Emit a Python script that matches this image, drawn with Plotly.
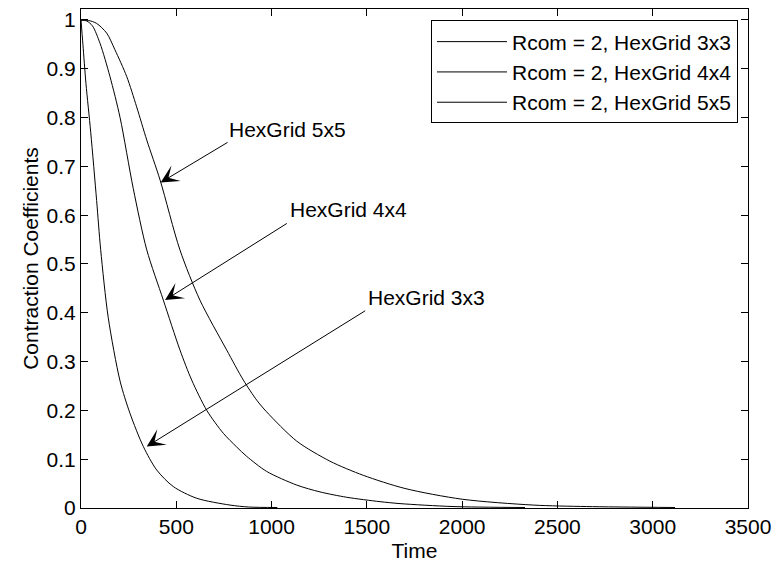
import plotly.graph_objects as go

# Contraction coefficient decay over time for three hexagonal grid sizes (Rcom = 2)
time_3x3 = [0, 10, 26, 51, 82, 103, 143, 205, 257, 327, 397, 484, 607, 782, 880, 1030]
coef_3x3 = [1.0, 0.95, 0.87, 0.77, 0.63, 0.53, 0.39, 0.26, 0.194, 0.126, 0.078, 0.044,
            0.020, 0.006, 0.002, 0.001]

time_4x4 = [0, 30, 60, 100, 152, 205, 274, 345, 432, 519, 581, 660, 747, 817, 869, 974,
            1132, 1254, 1394, 1569, 1674, 1952, 2330]
coef_4x4 = [1.0, 0.998, 0.988, 0.952, 0.884, 0.80, 0.655, 0.529, 0.426, 0.324, 0.262,
            0.20, 0.153, 0.125, 0.106, 0.075, 0.047, 0.033, 0.022, 0.013, 0.009, 0.003,
            0.001]

time_5x5 = [0, 40, 82, 135, 178, 240, 292, 345, 415, 519, 624, 764, 852, 922, 974, 1132,
            1306, 1481, 1700, 2000, 2373, 2653, 3117]
coef_5x5 = [1.0, 0.999, 0.993, 0.973, 0.939, 0.884, 0.822, 0.754, 0.672, 0.529, 0.426,
            0.324, 0.262, 0.221, 0.197, 0.137, 0.096, 0.067, 0.040, 0.018, 0.006, 0.003,
            0.001]

series_names = ["Rcom = 2, HexGrid 3x3", "Rcom = 2, HexGrid 4x4", "Rcom = 2, HexGrid 5x5"]

x_ticks = [0, 500, 1000, 1500, 2000, 2500, 3000, 3500]
y_ticks = [0, 0.1, 0.2, 0.3, 0.4, 0.5, 0.6, 0.7, 0.8, 0.9, 1]
y_tick_text = ["0", "0.1", "0.2", "0.3", "0.4", "0.5", "0.6", "0.7", "0.8", "0.9", "1"]

# Callouts: label, label position, arrow tail, arrow tip (data units)
callout_labels = ["HexGrid 5x5", "HexGrid 4x4", "HexGrid 3x3"]
callout_text_pos = [(1083, 0.775), (1404, 0.612), (1814, 0.431)]
callout_tail = [(777, 0.751), (1088, 0.585), (1499, 0.406)]
callout_tip = [(418, 0.667), (441, 0.426), (345, 0.126)]

FONT = "Liberation Sans, Arial, sans-serif"
TXT = dict(family=FONT, size=21, color="black")

fig = go.Figure()
for xs, ys, name in zip([time_3x3, time_4x4, time_5x5],
                        [coef_3x3, coef_4x4, coef_5x5], series_names):
    fig.add_trace(go.Scatter(x=xs, y=ys, mode="lines", name=name,
                             line=dict(color="black", width=1, shape="spline",
                                       smoothing=0.8)))

for label, (tx, ty), (ax, ay), (px, py) in zip(callout_labels, callout_text_pos,
                                               callout_tail, callout_tip):
    fig.add_annotation(x=px, y=py, ax=ax, ay=ay, xref="x", yref="y", axref="x", ayref="y",
                       text="", showarrow=True, arrowhead=3, arrowsize=3,
                       arrowwidth=1, arrowcolor="black")
    fig.add_annotation(x=tx, y=ty, xref="x", yref="y", text=label, showarrow=False,
                       xanchor="center", yanchor="middle", font=TXT)

# Vertical axis title placed left of the tick labels
fig.add_annotation(x=-0.076, y=0.5, xref="paper", yref="paper",
                   text="Contraction Coefficients", textangle=-90, showarrow=False,
                   xanchor="center", yanchor="middle", font=TXT)

axis_common = dict(showline=True, linecolor="black", linewidth=1, mirror="allticks",
                   ticks="inside", ticklen=7, tickcolor="black", showgrid=False,
                   zeroline=False, tickfont=TXT)

fig.update_xaxes(range=[0, 3500], tickvals=x_ticks,
                 title=dict(text="Time", font=TXT, standoff=7),
                 **axis_common)
fig.update_yaxes(range=[0, 1.0225], tickvals=y_ticks, ticktext=y_tick_text,
                 **axis_common)

fig.update_layout(
    width=775, height=562,
    margin=dict(l=81, r=27, t=9, b=54, autoexpand=False),
    plot_bgcolor="white", paper_bgcolor="white",
    font=TXT,
    legend=dict(x=0.985, y=0.977, xanchor="right", yanchor="top",
                bgcolor="white", bordercolor="black", borderwidth=1,
                font=TXT, tracegroupgap=0, itemwidth=70),
    showlegend=True,
)

fig.write_html("out.html")
